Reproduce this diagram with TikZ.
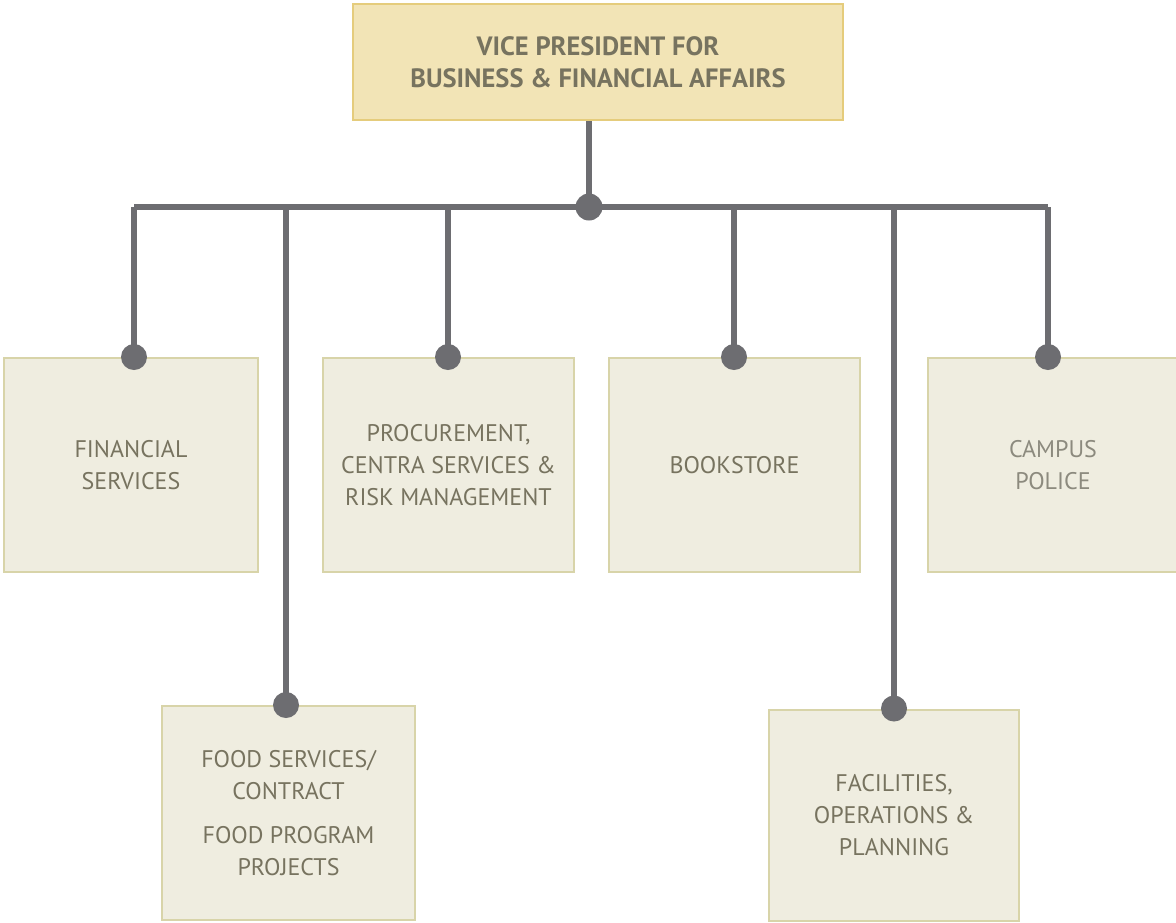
\documentclass[tikz,border=0pt]{standalone}
\usepackage{fontspec}
\setmainfont{PT Sans}
\definecolor{wire}{HTML}{6D6D71}
\definecolor{unitfill}{HTML}{EFEDE0}
\definecolor{unitline}{HTML}{D8D4A9}
\definecolor{headfill}{HTML}{F2E4B6}
\definecolor{headline}{HTML}{E5CC7C}
\definecolor{txt}{HTML}{77735F}
\definecolor{lighttxt}{HTML}{8C8A7E}
\begin{document}
\begin{tikzpicture}[x=1pt,y=-1pt,
  unit/.style={draw=unitline, fill=unitfill, line width=2pt, rectangle,
    inner sep=0pt, align=center, text=txt,
    font=\fontsize{24}{32}\selectfont},
  head/.style={draw=headline, fill=headfill, line width=2pt, rectangle,
    inner sep=0pt, align=center, text=txt,
    font=\fontsize{26.5}{32}\selectfont\bfseries},
  wireline/.style={draw=wire, line width=6pt},
  joint/.style={fill=wire}]
\useasboundingbox (0,0) rectangle (1176,922);

% head of the division
\node[head, minimum width=490pt, minimum height=116pt] (vp) at (598,62)
  {VICE PRESIDENT FOR\\BUSINESS \& FINANCIAL AFFAIRS};

% units
\node[unit, minimum width=254pt, minimum height=214pt] (fin) at (131,465)
  {FINANCIAL\\SERVICES};
\node[unit, minimum width=253pt, minimum height=214pt] (food) at (288.5,813)
  {FOOD SERVICES/\\CONTRACT\\[12pt]FOOD PROGRAM\\PROJECTS};
\node[unit, minimum width=251pt, minimum height=214pt] (proc) at (448.5,465)
  {PROCUREMENT,\\CENTRA SERVICES \&\\RISK MANAGEMENT};
\node[unit, minimum width=251pt, minimum height=214pt] (book) at (734.5,465)
  {BOOKSTORE};
\node[unit, minimum width=250pt, minimum height=211pt] (fac) at (894,815)
  {FACILITIES,\\OPERATIONS \&\\PLANNING};
\node[unit, minimum width=250pt, minimum height=214pt, text=lighttxt] (pol) at (1053,465)
  {CAMPUS\\POLICE};

% branching bar
\coordinate (hub) at (589,207);
\coordinate (b1) at (134,207);
\coordinate (b2) at (286,207);
\coordinate (b3) at (448,207);
\coordinate (b4) at (734,207);
\coordinate (b5) at (894,207);
\coordinate (b6) at (1048,207);

\draw[wireline] (hub |- vp.south) -- (hub);
\draw[wireline] (b1) -- (b6);
\draw[wireline] (b1) -- (fin.north -| b1);
\draw[wireline] (b2) -- (food.north -| b2);
\draw[wireline] (b3) -- (proc.north -| b3);
\draw[wireline] (b4) -- (book.north -| b4);
\draw[wireline] (b5) -- (fac.north -| b5);
\draw[wireline] (b6) -- (pol.north -| b6);

% joints
\fill[joint] (hub) circle (13.5pt);
\fill[joint] (fin.north -| b1) circle (13pt);
\fill[joint] (food.north -| b2) circle (13pt);
\fill[joint] (proc.north -| b3) circle (13pt);
\fill[joint] (book.north -| b4) circle (13pt);
\fill[joint] (fac.north -| b5) circle (13pt);
\fill[joint] (pol.north -| b6) circle (13pt);
\end{tikzpicture}
\end{document}
